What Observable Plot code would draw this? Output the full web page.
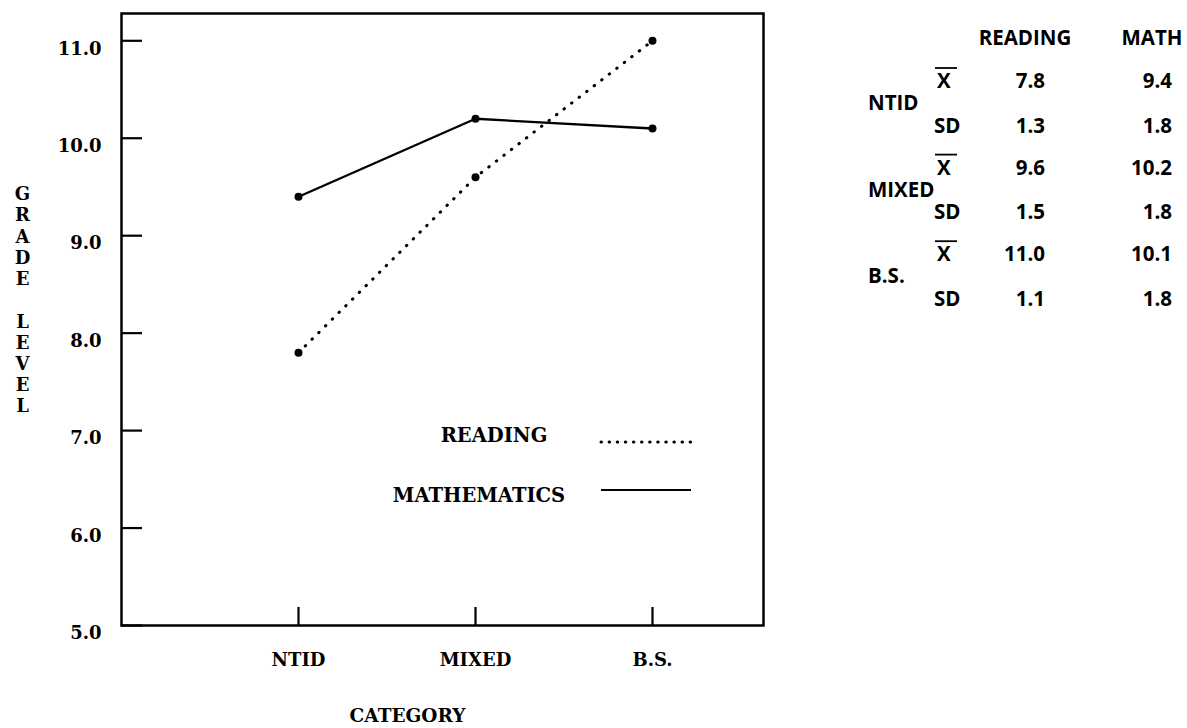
<!DOCTYPE html>
<html>
<head>
<meta charset="utf-8">
<script src="https://cdn.jsdelivr.net/npm/d3@7"></script>
<script src="https://cdn.jsdelivr.net/npm/@observablehq/plot@0.6"></script>
<style>
  html, body { margin: 0; padding: 0; background: #fff; }
  #chart { width: 1187px; height: 728px; }
</style>
</head>
<body>
<div id="chart"></div>
<script>
// ---- data ----
const categories = ["NTID", "MIXED", "B.S."];
const readingMean = [7.8, 9.6, 11.0];
const mathMean = [9.4, 10.2, 10.1];
const readingSD = [1.3, 1.5, 1.1];
const mathSD = [1.8, 1.8, 1.8];
const yTicks = [5, 6, 7, 8, 9, 10, 11];
const seriesNames = ["READING", "MATHEMATICS"];
const tableHeaders = ["READING", "MATH"];
const statLabels = ["X", "SD"];
const yLabelText = "GRADE LEVEL";
const xLabelText = "CATEGORY";

const reading = categories.map((c, i) => ({category: c, value: readingMean[i]}));
const math = categories.map((c, i) => ({category: c, value: mathMean[i]}));

const serif = "DejaVu Serif";

const chart = Plot.plot({
  width: 1187,
  height: 728,
  marginLeft: 121,
  marginRight: 424,
  marginTop: 13,
  marginBottom: 103,
  style: {fontFamily: serif, fontWeight: "bold", fontSize: "18px", color: "#000", background: "#fff", overflow: "visible"},
  x: {type: "point", domain: categories, range: [298, 652], padding: 0},
  y: {domain: [5, 11.28]},
  marks: [
    Plot.frame({stroke: "#000", strokeWidth: 2.5}),
    // inward ticks
    Plot.axisY({ticks: yTicks, tickSize: -21, tickFormat: () => "", strokeWidth: 2.2, label: null}),
    Plot.axisY({ticks: yTicks, tickSize: 0, tickPadding: 20, dy: 8, tickFormat: d3.format(".1f"), label: null, fontSize: 18}),
    Plot.axisX({tickSize: -18, tickFormat: () => "", strokeWidth: 2.2, label: null}),
    Plot.axisX({tickSize: 0, tickPadding: 28, label: null, fontSize: 18}),
    // y label stacked letters
    Plot.text([yLabelText], {
      text: d => d.split("").map(ch => ch === " " ? "" : ch).join("\n"),
      frameAnchor: "left", dx: -99, dy: -20, lineHeight: 1.18, fontSize: 18, textAnchor: "middle"
    }),
    Plot.text([xLabelText], {text: d => d, frameAnchor: "bottom", dx: -35, dy: 96, fontSize: 18.5}),
    // series
    Plot.line(reading, {x: "category", y: "value", stroke: "#000", strokeWidth: 3, strokeDasharray: "0.5,9", strokeLinecap: "round"}),
    Plot.line(math, {x: "category", y: "value", stroke: "#000", strokeWidth: 2.3}),
    Plot.dot(reading, {x: "category", y: "value", r: 4, fill: "#000"}),
    Plot.dot(math, {x: "category", y: "value", r: 4, fill: "#000"})
  ]
});
document.getElementById("chart").appendChild(chart);

// ---- legend (inside plot frame) ----
const svg = d3.select(chart);
const lg = svg.append("g").attr("font-family", serif).attr("font-weight", "bold").attr("font-size", 19.5);
const legendLayout = [
  {cx: 494, ty: 435, ly: 442, dash: "0.5,7.6", w: 3},
  {cx: 479, ty: 495, ly: 490, dash: null, w: 2.2}
];
seriesNames.forEach((name, i) => {
  const L = legendLayout[i];
  lg.append("text").attr("x", L.cx).attr("y", L.ty).attr("text-anchor", "middle")
    .attr("dominant-baseline", "central").text(name);
  const ln = lg.append("line").attr("x1", 601).attr("x2", 691).attr("y1", L.ly).attr("y2", L.ly)
    .attr("stroke", "#000").attr("stroke-width", L.w).attr("stroke-linecap", L.dash ? "round" : "butt");
  if (L.dash) ln.attr("stroke-dasharray", L.dash);
});

// ---- statistics table (right side) ----
const tg = svg.append("g").attr("font-family", "Open Sans").attr("font-weight", 700).attr("font-size", 20.5)
  .attr("dominant-baseline", "central").attr("text-anchor", "start");
const colReadingRight = 1045, colMathRight = 1172;
tg.append("text").attr("x", 1025).attr("y", 37).attr("text-anchor", "middle").text(tableHeaders[0]);
tg.append("text").attr("x", 1152).attr("y", 37).attr("text-anchor", "middle").text(tableHeaders[1]);
categories.forEach((cat, g) => {
  const y0 = 80 + g * 86.6;
  const ySD = y0 + 44.5;
  tg.append("text").attr("x", 868).attr("y", y0 + 22).attr("text-anchor", "start").text(cat);
  tg.append("text").attr("x", 937).attr("y", y0).attr("text-anchor", "start").text(statLabels[0]);
  tg.append("line").attr("x1", 935).attr("x2", 957).attr("y1", y0 - 12).attr("y2", y0 - 12)
    .attr("stroke", "#000").attr("stroke-width", 1.8);
  tg.append("text").attr("x", 934).attr("y", ySD).attr("text-anchor", "start").text(statLabels[1]);
  tg.append("text").attr("x", colReadingRight).attr("y", y0).attr("text-anchor", "end").text(readingMean[g].toFixed(1));
  tg.append("text").attr("x", colMathRight).attr("y", y0).attr("text-anchor", "end").text(mathMean[g].toFixed(1));
  tg.append("text").attr("x", colReadingRight).attr("y", ySD).attr("text-anchor", "end").text(readingSD[g].toFixed(1));
  tg.append("text").attr("x", colMathRight).attr("y", ySD).attr("text-anchor", "end").text(mathSD[g].toFixed(1));
});
</script>
</body>
</html>
